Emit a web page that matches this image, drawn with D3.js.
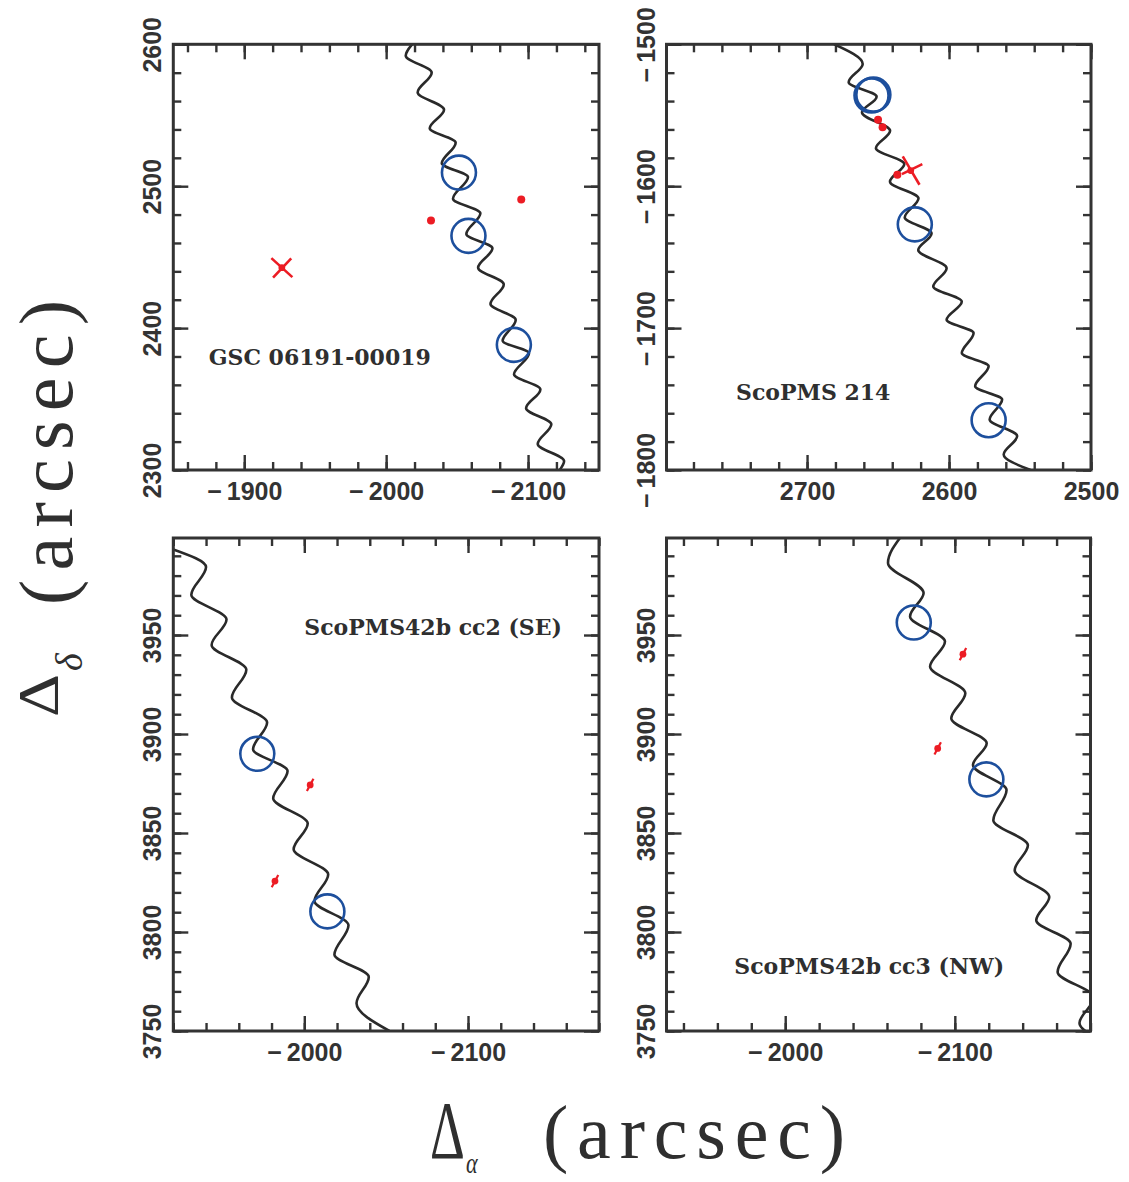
<!DOCTYPE html>
<html>
<head>
<meta charset="utf-8">
<script src="https://cdn.jsdelivr.net/npm/d3@7"></script>
<style>
body { margin: 0; background: #fff; }
</style>
</head>
<body>
<svg id="chart" width="1129" height="1182"></svg>
<script>
// names written inside each panel, and where (data units)
var panelLabels = ['GSC 06191-00019', 'ScoPMS 214', 'ScoPMS42b cc2 (SE)', 'ScoPMS42b cc3 (NW)'];
var labelPos = [[-1875, 2374], [2750, -1751], [-2000, 3950], [-1970, 3779]];

// axis ranges and ticks
var xDomains = [[-1850, -2150], [2799, 2500], [-1920, -2180], [-1930, -2180]];
var yDomains = [[2300, 2600], [-1800, -1500], [3750, 3999], [3750, 3999]];
var xMajor = [[-1900, -2000, -2100], [2700, 2600, 2500], [-2000, -2100], [-2000, -2100]];
var yMajor = [[2300, 2400, 2500, 2600], [-1800, -1700, -1600, -1500],
	[3750, 3800, 3850, 3900, 3950], [3750, 3800, 3850, 3900, 3950]];
var xMinorStep = [20, 20, 20, 20];
var yMinorStep = [20, 20, 10, 10];

// predicted paths (turning points)
var track1 = [[-2018.3, 2600], [-2013.8, 2592.0], [-2032.1, 2580.0], [-2022.2, 2566.1], [-2040.8, 2553.9],
	[-2030.7, 2540.8], [-2049.0, 2530.7], [-2039.2, 2516.1], [-2057.7, 2506.5], [-2047.1, 2491.2],
	[-2066.4, 2480.9], [-2056.5, 2466.3], [-2074.9, 2456.2], [-2064.8, 2442.6], [-2082.9, 2430.8],
	[-2073.5, 2417.0], [-2091.3, 2405.7], [-2082.1, 2391.1], [-2100.7, 2382.2], [-2090.1, 2367.4],
	[-2108.7, 2356.8], [-2098.6, 2343.5], [-2116.4, 2332.2], [-2106.8, 2318.3], [-2125.4, 2306.3],
	[-2122.3, 2300]];
var track2 = [[2680.9, -1500], [2660.8, -1513.8], [2670.7, -1526.7], [2651.0, -1536.9], [2661.3, -1548.0],
	[2641.5, -1561.0], [2651.5, -1573.2], [2631.5, -1584.4], [2641.6, -1596.8], [2621.5, -1608.5],
	[2631.2, -1622.0], [2612.3, -1633.3], [2621.7, -1645.0], [2601.7, -1657.8], [2611.1, -1670.7],
	[2591.0, -1681.3], [2601.7, -1694.1], [2582.7, -1703.5], [2591.0, -1717.6], [2572.1, -1726.9],
	[2581.6, -1741.0], [2562.6, -1750.4], [2571.4, -1764.4], [2552.0, -1776.1], [2561.5, -1789.0],
	[2542.6, -1800]];
var track3 = [[-1920, 3993.2], [-1940.0, 3984.3], [-1931.0, 3970.3], [-1952.5, 3957.8], [-1943.4, 3945.0],
	[-1964.6, 3932.5], [-1955.8, 3918.5], [-1977.3, 3905.8], [-1968.7, 3892.3], [-1989.8, 3881.3],
	[-1981.0, 3867.5], [-2002.1, 3854.8], [-1993.5, 3841.8], [-2014.6, 3829.1], [-2006.2, 3815.6],
	[-2027.0, 3803.4], [-2018.4, 3788.6], [-2039.4, 3777.3], [-2031.9, 3764.0], [-2052, 3750]];
var track4 = [[-2068.5, 4000], [-2060.6, 3986.4], [-2081.6, 3971.2], [-2073.6, 3959.4], [-2094.2, 3946.7],
	[-2085.4, 3934.1], [-2106.2, 3920.6], [-2097.9, 3907.9], [-2118.8, 3895.3], [-2110.7, 3884.3],
	[-2130.5, 3871.7], [-2122.7, 3856.5], [-2143.1, 3843.8], [-2135.3, 3831.2], [-2155.7, 3817.7],
	[-2148.0, 3805.9], [-2168.3, 3794.1], [-2160.6, 3779.8], [-2182.0, 3767.0], [-2173.5, 3754.0],
	[-2190.0, 3744.0]];

// observed positions (blue circles)
var circles1 = [[-2051.3, 2509.6], [-2058.0, 2465.0], [-2090.0, 2388.2]];
var circles2 = [[2654.6, -1536.1], [2653.3, -1535.5], [2624.1, -1626.9], [2572.1, -1764.9]];
var circles3 = [[-1971.3, 3890.0], [-2014.1, 3810.4]];
var circles4 = [[-2075.8, 3956.3], [-2118.6, 3877.1]];

// background sources (red)
var dots1 = [[-2031.6, 2475.8], [-2095.2, 2490.7]];
var dots2 = [[2650.0, -1553.2], [2646.8, -1558.5], [2636.4, -1592.0]];
// crosses: centre, then two arms [dx1, dy1, dx2, dy2]
var cross1 = [-1926.5, 2442.6];
var cross1Arms = [[7.4, 6.7, -7.4, -6.7], [6.2, -7.0, -6.6, 6.6]];
var cross2 = [2627.0, -1589.0];
var cross2Arms = [[5.6, 10.0, -6.2, -10.0], [6.2, -2.5, -8.2, 4.5]];
// small points with error bar [x, y, ex, ey]
var errs3 = [[-2003.6, 3874.3, 2.0, 3.1], [-1982.1, 3825.7, 2.0, 3.1]];
var errs4 = [[-2104.8, 3940.3, 1.9, 3.1], [-2089.9, 3892.7, 1.9, 3.1]];

var tracks = [track1, track2, track3, track4];
var circles = [circles1, circles2, circles3, circles4];
var dots = [dots1, dots2, [], []];
var crosses = [[cross1, cross1Arms], [cross2, cross2Arms], null, null];
var errs = [[], [], errs3, errs4];

var boxes = [
	{ left: 173.3, right: 599, top: 44.3, bottom: 470 },
	{ left: 666.5, right: 1091, top: 44.3, bottom: 470 },
	{ left: 173.3, right: 599, top: 538, bottom: 1031 },
	{ left: 666.5, right: 1090.5, top: 538, bottom: 1031 }
];

var ink = '#333333';
var blue = '#1d4f9d';
var red = '#ec1c24';

var svg = d3.select('#chart');
var defs = svg.append('defs');

function fmt(d) {
	return (d < 0 ? '\u2212\u2009' : '') + Math.abs(d);
}

function minorTicks(dom, step) {
	var lo = Math.min(dom[0], dom[1]), hi = Math.max(dom[0], dom[1]);
	return d3.range(Math.ceil(lo / step) * step, hi + 0.001, step);
}

boxes.forEach(function (b, i) {
	var xScale = d3.scaleLinear().domain(xDomains[i]).range([b.left, b.right]);
	var yScale = d3.scaleLinear().domain(yDomains[i]).range([b.bottom, b.top]);
	var g = svg.append('g');

	var xm = minorTicks(xDomains[i], xMinorStep[i]);
	var ym = minorTicks(yDomains[i], yMinorStep[i]);

	var axes = [
		{ gen: d3.axisBottom, s: xScale, t: 'translate(0,' + b.bottom + ')', minor: xm, major: xMajor[i], lab: true },
		{ gen: d3.axisTop, s: xScale, t: 'translate(0,' + b.top + ')', minor: xm, major: xMajor[i], lab: false },
		{ gen: d3.axisLeft, s: yScale, t: 'translate(' + b.left + ',0)', minor: ym, major: yMajor[i], lab: true },
		{ gen: d3.axisRight, s: yScale, t: 'translate(' + b.right + ',0)', minor: ym, major: yMajor[i], lab: false }
	];

	axes.forEach(function (a, k) {
		var gm = g.append('g').attr('transform', a.t)
			.call(a.gen(a.s).tickValues(a.minor).tickSize(-8).tickFormat(''));
		gm.select('.domain').remove();
		gm.selectAll('line').attr('stroke', ink).attr('stroke-width', 2.4);

		var gM = g.append('g').attr('transform', a.t)
			.call(a.gen(a.s).tickValues(a.major).tickSize(-15).tickPadding(12)
				.tickFormat(a.lab ? fmt : ''));
		gM.select('.domain').remove();
		gM.selectAll('line').attr('stroke', ink).attr('stroke-width', 2.4);
		gM.attr('font-family', '"Liberation Sans", Arial, sans-serif')
			.attr('font-size', 25).attr('font-weight', 'bold');
		gM.selectAll('text').attr('fill', ink);
		if (a.lab && k === 2) {
			gM.selectAll('.tick text')
				.attr('x', null).attr('dy', null)
				.attr('text-anchor', 'middle')
				.attr('transform', 'translate(-12,0) rotate(-90)');
		}
	});

	defs.append('clipPath').attr('id', 'clip' + i)
		.append('rect')
		.attr('x', b.left).attr('y', b.top)
		.attr('width', b.right - b.left).attr('height', b.bottom - b.top);

	var plot = g.append('g').attr('clip-path', 'url(#clip' + i + ')');

	var line = d3.line()
		.x(function (d) { return xScale(d[0]); })
		.y(function (d) { return yScale(d[1]); })
		.curve(d3.curveMonotoneY);

	plot.append('path')
		.datum(tracks[i])
		.attr('d', line)
		.attr('fill', 'none')
		.attr('stroke', '#2a2a2a')
		.attr('stroke-width', 2.6)
		.attr('stroke-linejoin', 'round');

	plot.selectAll('circle.obs')
		.data(circles[i])
		.enter()
		.append('circle')
		.attr('class', 'obs')
		.attr('cx', function (d) { return xScale(d[0]); })
		.attr('cy', function (d) { return yScale(d[1]); })
		.attr('r', 17)
		.attr('fill', 'none')
		.attr('stroke', blue)
		.attr('stroke-width', 2.6);

	plot.selectAll('circle.bg')
		.data(dots[i])
		.enter()
		.append('circle')
		.attr('class', 'bg')
		.attr('cx', function (d) { return xScale(d[0]); })
		.attr('cy', function (d) { return yScale(d[1]); })
		.attr('r', 4)
		.attr('fill', red);

	if (crosses[i]) {
		var c = crosses[i][0];
		crosses[i][1].forEach(function (arm) {
			plot.append('line')
				.attr('x1', xScale(c[0] + arm[0])).attr('y1', yScale(c[1] + arm[1]))
				.attr('x2', xScale(c[0] + arm[2])).attr('y2', yScale(c[1] + arm[3]))
				.attr('stroke', red).attr('stroke-width', 2.6);
		});
		plot.append('circle')
			.attr('cx', xScale(c[0])).attr('cy', yScale(c[1]))
			.attr('r', 3.4).attr('fill', red);
	}

	var eg = plot.selectAll('g.err')
		.data(errs[i])
		.enter()
		.append('g')
		.attr('class', 'err');
	eg.append('line')
		.attr('x1', function (d) { return xScale(d[0] + d[2]); })
		.attr('y1', function (d) { return yScale(d[1] - d[3]); })
		.attr('x2', function (d) { return xScale(d[0] - d[2]); })
		.attr('y2', function (d) { return yScale(d[1] + d[3]); })
		.attr('stroke', red).attr('stroke-width', 2.2);
	eg.append('ellipse')
		.attr('cx', function (d) { return xScale(d[0]); })
		.attr('cy', function (d) { return yScale(d[1]); })
		.attr('rx', 3.4).attr('ry', 3.4)
		.attr('fill', red);

	g.append('text')
		.attr('x', xScale(labelPos[i][0]))
		.attr('y', yScale(labelPos[i][1]))
		.attr('font-family', '"DejaVu Serif", serif')
		.attr('font-weight', 'bold')
		.attr('font-size', 22)
		.attr('fill', '#2f2f2f')
		.text(panelLabels[i]);

	g.append('rect')
		.attr('x', b.left).attr('y', b.top)
		.attr('width', b.right - b.left).attr('height', b.bottom - b.top)
		.attr('fill', 'none')
		.attr('stroke', ink)
		.attr('stroke-width', 3);
});

// axis titles
var serif = 'Liberation Serif, DejaVu Serif, serif';
var titles = svg.append('g').attr('fill', '#2f2f2f').style('font-family', serif);

titles.append('text')
	.attr('transform', 'translate(430,1158) scale(0.66,1)')
	.attr('font-size', 82)
	.text('\u0394');
titles.append('text')
	.attr('transform', 'translate(466,1173) scale(0.74,1)')
	.attr('font-size', 30)
	.attr('font-style', 'italic')
	.text('\u03b1');
titles.append('text')
	.attr('x', 543).attr('y', 1158)
	.attr('font-size', 76)
	.attr('textLength', 302)
	.attr('lengthAdjust', 'spacing')
	.text('(arcsec)');

titles.append('text')
	.attr('transform', 'translate(58,717) rotate(-90) scale(1.15,1)')
	.attr('font-size', 58)
	.text('\u0394');
titles.append('text')
	.attr('transform', 'translate(82,671) rotate(-90)')
	.attr('font-size', 38)
	.attr('font-style', 'italic')
	.text('\u03b4');
titles.append('text')
	.attr('transform', 'translate(72,605) rotate(-90)')
	.attr('font-size', 76)
	.attr('textLength', 305)
	.attr('lengthAdjust', 'spacing')
	.text('(arcsec)');
</script>
</body>
</html>
